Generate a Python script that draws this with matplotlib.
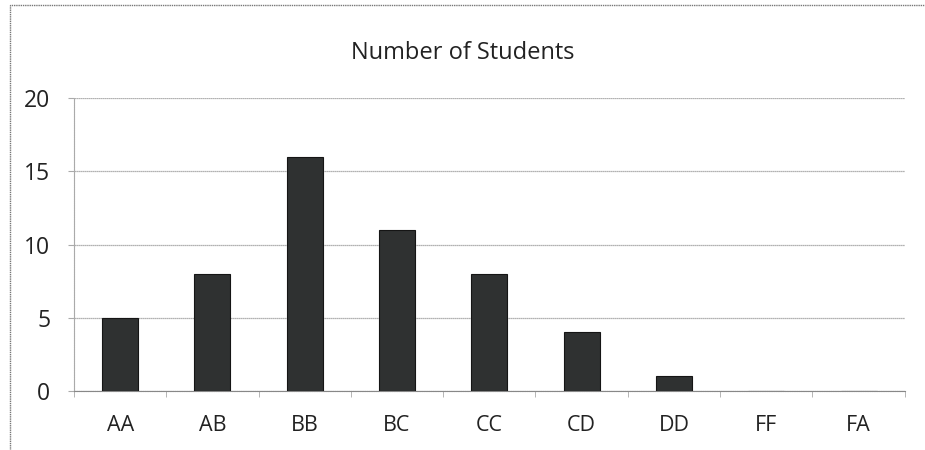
import matplotlib.pyplot as plt
from matplotlib.patches import Rectangle

grades = ['AA', 'AB', 'BB', 'BC', 'CC', 'CD', 'DD', 'FF', 'FA']
students = [5, 8, 16, 11, 8, 4, 1, 0, 0]

plt.rcParams['font.family'] = ['Open Sans', 'DejaVu Sans']

fig = plt.figure(figsize=(9.25, 4.5), dpi=100)
ax = fig.add_axes([0.08, 0.131, 0.898, 0.651])

x = range(len(grades))
ax.bar(x, students, width=0.39, color='#2f3131', edgecolor='#151515', linewidth=0.8, zorder=3)

ax.set_xlim(-0.5, len(grades) - 0.5)
ax.set_ylim(0, 20)
ax.set_yticks([0, 5, 10, 15, 20])
ax.set_xticks(list(x))
ax.set_xticklabels(grades)
ax.set_xticks([i + 0.5 for i in range(-1, len(grades))], minor=True)

ax.grid(axis='y', color='#999999', linestyle=(0, (1, 0.6)), linewidth=0.9, zorder=0)
for s in ['top', 'right']:
    ax.spines[s].set_visible(False)
ax.spines['left'].set_color('#aaaaaa')
ax.spines['left'].set_linestyle((0, (1, 0.6)))
ax.spines['bottom'].set_color('#888888')
ax.spines['bottom'].set_linestyle((0, (1, 0.6)))

ax.tick_params(axis='x', which='major', length=0, pad=17, labelsize=15.5, colors='#222222')
ax.tick_params(axis='x', which='minor', length=4, color='#aaaaaa', direction='out')
ax.tick_params(axis='y', length=4, color='#aaaaaa', pad=13, labelsize=16.5, colors='#222222')

fig.text(0.5, 0.882, 'Number of Students', ha='center', va='center', fontsize=17, color='#222222')

# outer chart frame
fig.patches.append(Rectangle((10 / 925, -0.02), 0.995, 0.9889 + 0.02, transform=fig.transFigure,
                             fill=False, edgecolor='#777777', linestyle=(0, (1, 0.6)), linewidth=1.0))

fig.savefig('out.png', dpi=100)
